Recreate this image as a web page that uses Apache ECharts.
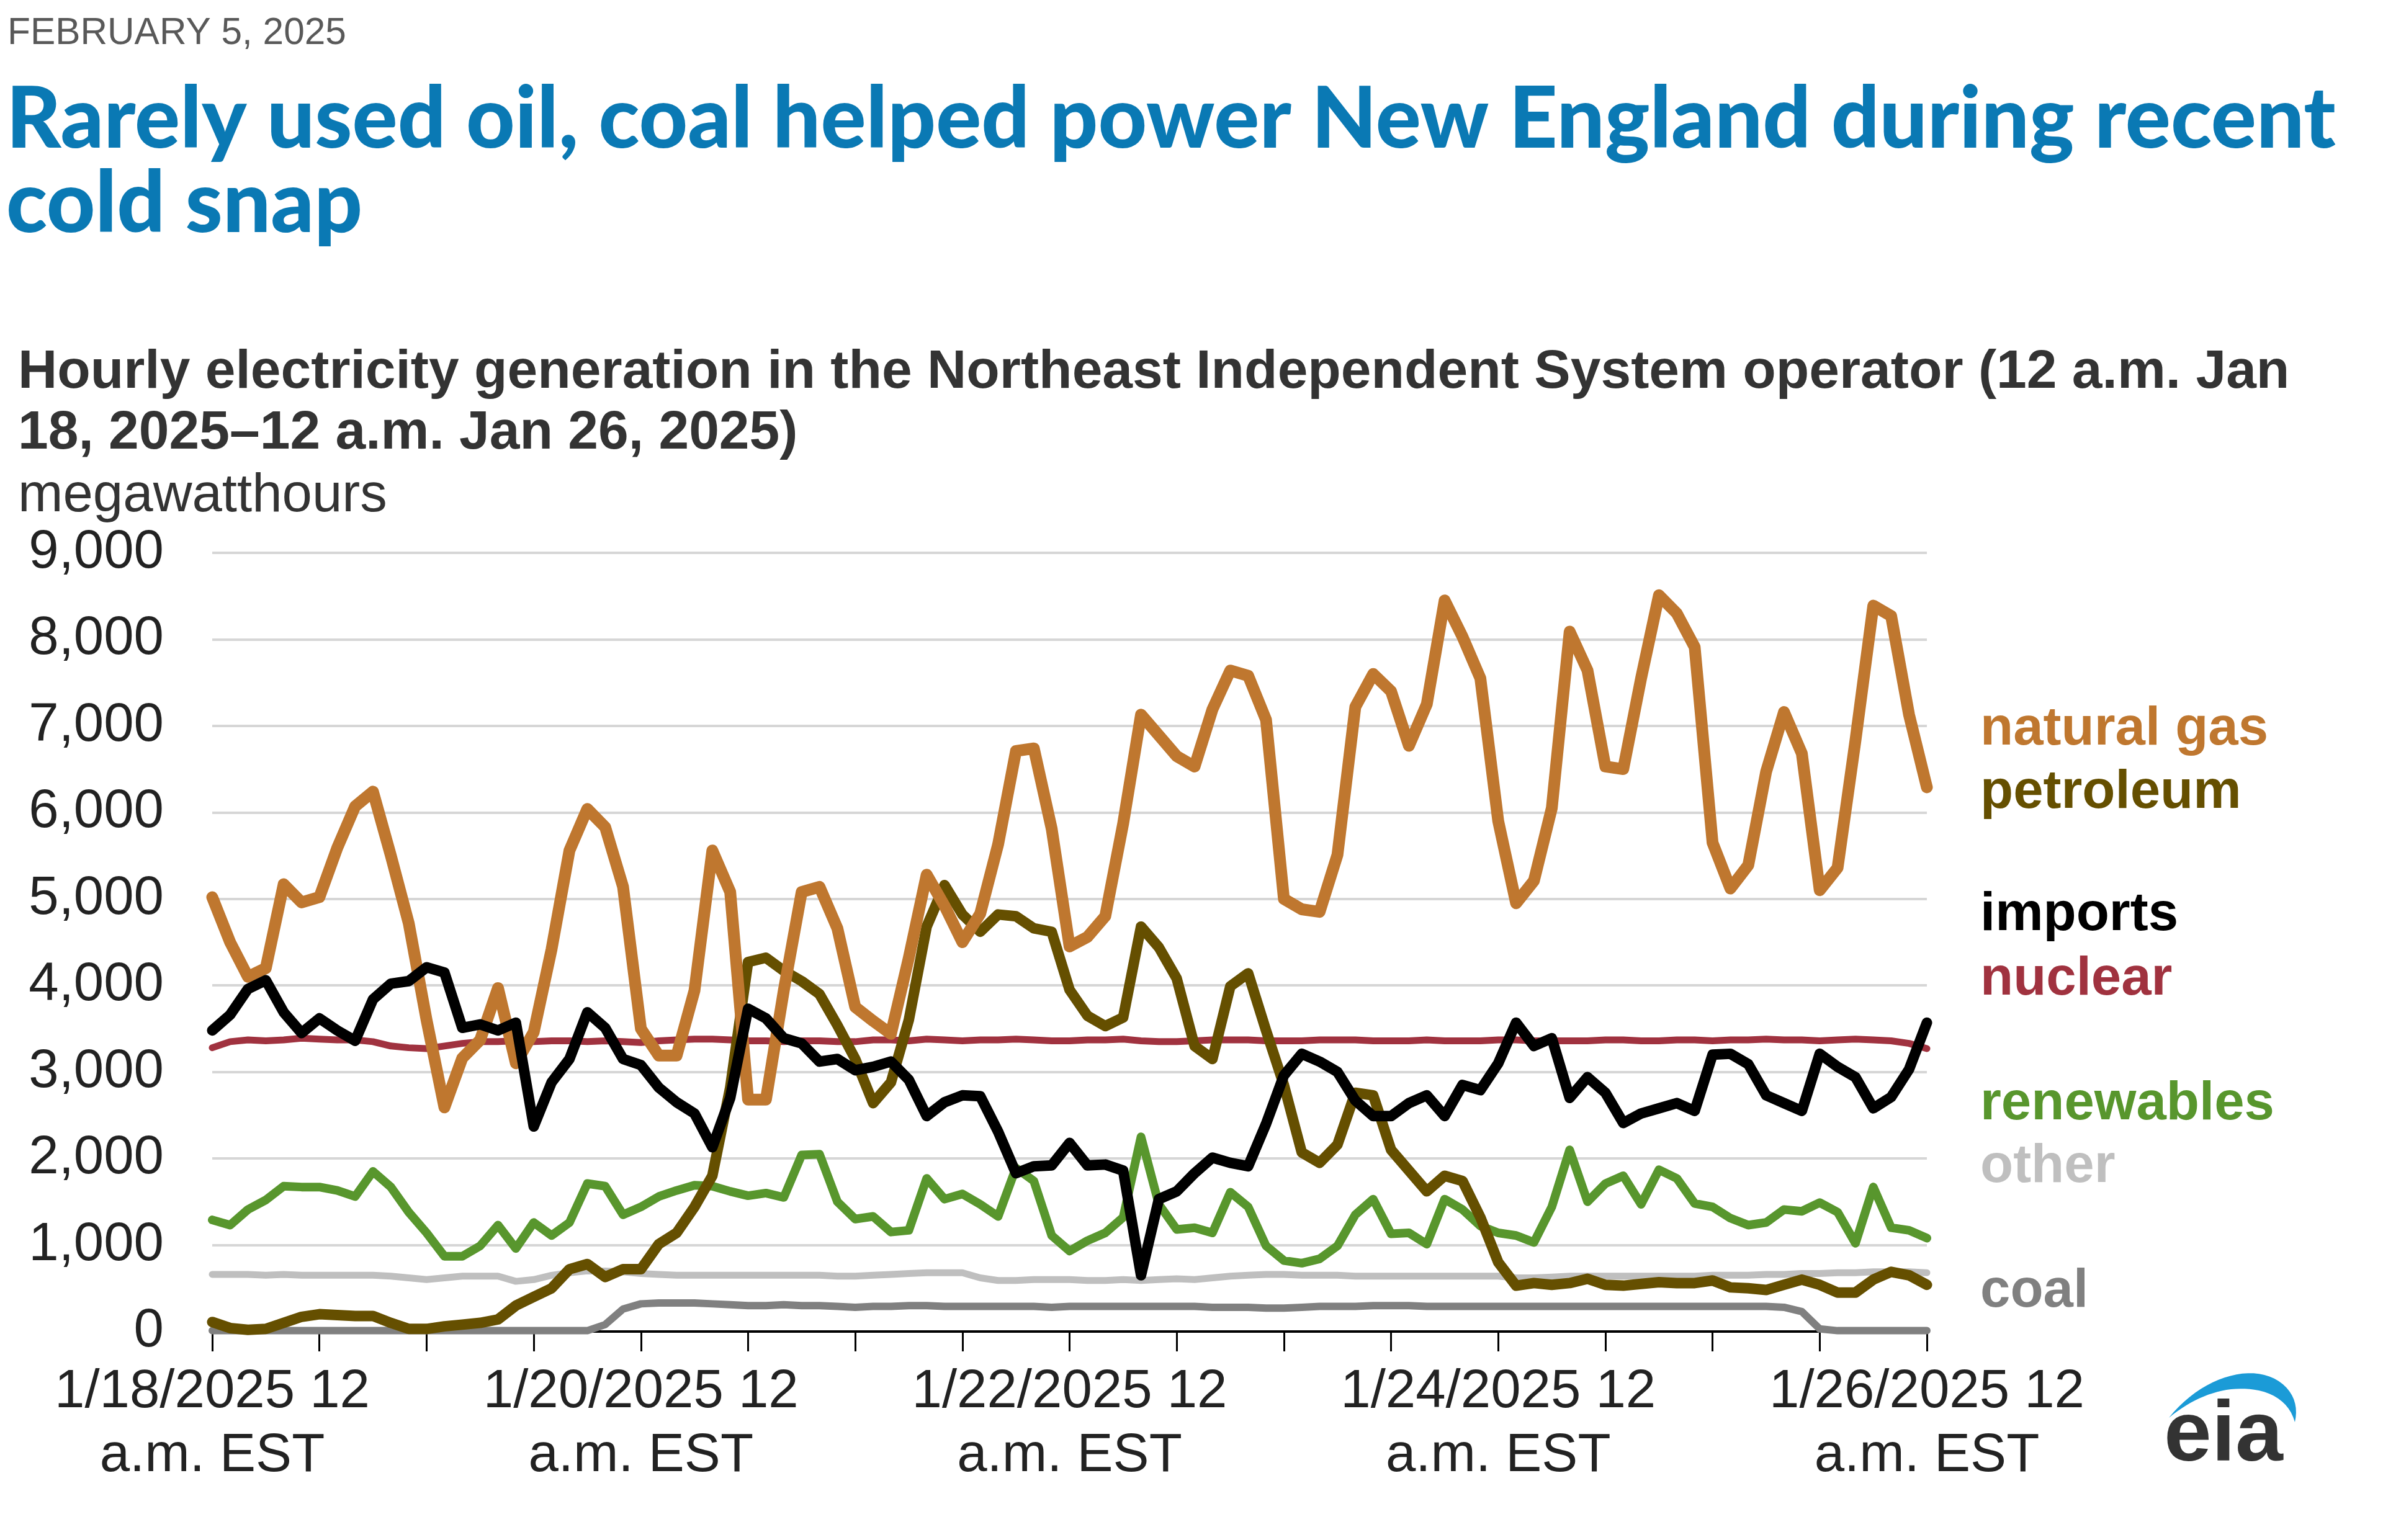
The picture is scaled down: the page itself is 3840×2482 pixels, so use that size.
<!DOCTYPE html>
<html><head><meta charset="utf-8">
<script src="https://cdn.jsdelivr.net/npm/echarts@6/dist/echarts.min.js"></script>
<style>html,body{margin:0;padding:0;background:#fff}#c{width:3840px;height:2482px}</style>
</head><body><div id="c"></div>
<script>
// hours since 12 a.m. Jan 18, 2025 (sampled every 2 hours)
const hours = [
  0,2,4,6,8,10,12,14,16,18,20,22,
  24,26,28,30,32,34,36,38,40,42,44,46,
  48,50,52,54,56,58,60,62,64,66,68,70,
  72,74,76,78,80,82,84,86,88,90,92,94,
  96,98,100,102,104,106,108,110,112,114,116,118,
  120,122,124,126,128,130,132,134,136,138,140,142,
  144,146,148,150,152,154,156,158,160,162,164,166,
  168,170,172,174,176,178,180,182,184,186,188,190,
  192];

const naturalGas = [
  5020,4500,4100,4200,5170,4960,5020,5590,6070,6240,5500,4720,
  3600,2590,3160,3370,3970,3100,3460,4420,5560,6040,5830,5140,
  3500,3190,3190,3940,5560,5080,2680,2680,3940,5080,5140,4660,
  3750,3590,3440,4320,5280,4920,4500,4830,5630,6710,6740,5810,
  4450,4560,4800,5870,7130,6890,6650,6530,7190,7640,7580,7070,
  5000,4880,4850,5510,7220,7600,7400,6770,7250,8450,8030,7550,
  5900,4950,5210,6050,8090,7640,6530,6500,7550,8510,8300,7910,
  5650,5120,5390,6470,7160,6680,5100,5360,6830,8390,8270,7130,
  6290];

const petroleum = [
  110,40,20,30,100,170,200,190,180,180,100,30,
  30,60,80,100,140,300,400,500,720,780,630,720,
  720,1010,1140,1440,1800,2820,4270,4320,4170,4050,3900,3540,
  3150,2640,2880,3600,4680,5160,4820,4620,4820,4800,4660,4620,
  3950,3650,3530,3630,4680,4440,4080,3300,3150,3990,4140,3480,
  2850,2070,1950,2160,2760,2730,2100,1860,1620,1800,1740,1320,
  800,530,560,540,560,610,540,530,550,570,560,560,
  590,510,500,480,540,600,540,450,450,600,690,650,
  540];

const imports = [
  3480,3660,3960,4060,3690,3450,3620,3480,3360,3840,4020,4050,
  4210,4150,3510,3550,3480,3570,2370,2880,3150,3690,3510,3150,
  3080,2820,2650,2520,2130,2700,3730,3620,3390,3330,3120,3150,
  3020,3060,3120,2910,2490,2650,2730,2720,2310,1830,1910,1920,
  2180,1920,1930,1860,650,1530,1620,1830,2010,1950,1910,2400,
  2960,3210,3120,3000,2670,2490,2490,2640,2730,2490,2850,2790,
  3100,3570,3300,3390,2700,2940,2760,2410,2520,2580,2640,2550,
  3200,3210,3090,2730,2640,2550,3210,3060,2940,2580,2710,3030,
  3570];

const nuclear = [
  3280,3350,3370,3360,3370,3390,3380,3370,3370,3350,3300,3280,
  3270,3300,3330,3350,3350,3360,3350,3360,3360,3350,3360,3350,
  3340,3360,3370,3380,3380,3370,3360,3360,3350,3360,3360,3350,
  3350,3370,3370,3360,3380,3370,3360,3370,3370,3380,3370,3360,
  3360,3370,3370,3380,3360,3350,3350,3360,3370,3370,3370,3360,
  3360,3360,3370,3370,3370,3360,3360,3360,3370,3360,3360,3360,
  3370,3370,3360,3360,3360,3360,3370,3370,3360,3360,3370,3370,
  3360,3370,3370,3380,3370,3370,3360,3370,3380,3370,3360,3330,
  3270];

const renewables = [
  1290,1230,1410,1520,1680,1670,1670,1630,1560,1850,1670,1380,
  1140,870,870,990,1230,960,1260,1110,1260,1710,1680,1350,
  1440,1560,1630,1690,1680,1620,1570,1600,1550,2040,2050,1500,
  1300,1330,1150,1170,1770,1530,1590,1470,1330,1890,1740,1110,
  930,1050,1140,1320,2250,1470,1180,1200,1140,1610,1440,990,
  820,790,840,990,1350,1530,1130,1140,1010,1530,1410,1220,
  1140,1110,1030,1440,2100,1500,1710,1800,1470,1870,1770,1480,
  1440,1310,1230,1260,1410,1390,1490,1380,1020,1670,1200,1170,
  1080];

const other = [
  660,660,660,650,660,650,650,650,650,650,640,620,
  600,620,640,640,640,580,600,650,680,700,700,690,
  670,660,650,650,650,650,650,650,650,650,650,640,
  640,650,660,670,680,680,680,620,590,590,600,600,
  600,590,590,600,590,600,610,600,620,640,650,660,
  660,650,650,650,640,640,640,640,640,640,640,640,
  640,620,620,630,640,640,640,640,640,640,640,640,
  650,650,650,660,660,670,670,680,680,690,690,690,
  680];

const coal = [
  10,10,10,10,10,10,10,10,10,10,10,10,
  10,10,10,10,10,10,10,10,10,10,80,260,
  320,330,330,330,320,310,300,300,310,300,300,290,
  280,290,290,300,300,290,290,290,290,290,290,280,
  290,290,290,290,290,290,290,290,280,280,280,270,
  270,280,290,290,290,300,300,300,290,290,290,290,
  290,290,290,290,290,290,290,290,290,290,290,290,
  290,290,290,290,280,230,30,10,10,10,10,10,
  10];

const xTickLabels = ['1/18/2025 12\na.m. EST','1/20/2025 12\na.m. EST','1/22/2025 12\na.m. EST','1/24/2025 12\na.m. EST','1/26/2025 12\na.m. EST'];

const seriesNames  = ['coal','other','renewables','nuclear','petroleum','natural gas','imports'];
const seriesData   = [coal, other, renewables, nuclear, petroleum, naturalGas, imports];
const seriesColors = ['#808080','#bfbfbf','#58962d','#a0323f','#654f00','#bf772f','#000000'];
const seriesWidths = [12, 11, 14, 11, 17, 19, 17];

function fitSize(text, weight, family, targetW) {
  const ctx = document.createElement('canvas').getContext('2d');
  ctx.font = weight + ' 100px ' + family;
  return 100 * targetW / ctx.measureText(text).width;
}

const AX = '"Liberation Sans", Arial, sans-serif';
const TF = 'Lato, "Noto Sans", sans-serif';
const titleSize = fitSize('Rarely used oil, coal helped power New England during recent', '900', TF, 3754);
const subSize = fitSize('Hourly electricity generation in the Northeast Independent System operator (12 a.m. Jan', 'bold', AX, 3661);
const dateSize = fitSize('FEBRUARY 5, 2025', 'normal', AX, 546);

function txt(text, x, y, size, weight, color, family) {
  return {type:'text', x:x, y:y, silent:true,
    style:{text:text, fill:color, fontSize:size, fontWeight:weight, fontFamily:family||AX,
      align:'left', verticalAlign:'middle', textAlign:'left', textVerticalAlign:'middle'}};
}

// logo swoosh outline built from two cubic curves
function cubic(p0, p1, p2, p3, n) {
  const pts = [];
  for (let i = 0; i <= n; i++) {
    const t = i / n, u = 1 - t;
    pts.push([u*u*u*p0[0] + 3*u*u*t*p1[0] + 3*u*t*t*p2[0] + t*t*t*p3[0],
              u*u*u*p0[1] + 3*u*u*t*p1[1] + 3*u*t*t*p2[1] + t*t*t*p3[1]]);
  }
  return pts;
}
const swoosh = []
  .concat(cubic([3495,2285],[3545,2222],[3625,2195],[3672,2226],20))
  .concat(cubic([3672,2226],[3696,2242],[3704,2266],[3698,2292],10))
  .concat(cubic([3698,2292],[3690,2264],[3670,2248],[3640,2241],10))
  .concat(cubic([3640,2241],[3590,2231],[3540,2248],[3495,2285],20));

const legendItems = [
  ['natural gas','#bf772f',1176],['petroleum','#654f00',1278],['imports','#000000',1475],
  ['nuclear','#a0323f',1579],['renewables','#58962d',1780],['other','#bfbfbf',1881],['coal','#808080',2082]
];

const graphic = [
  txt('FEBRUARY 5, 2025', 12, 54, dateSize, 'normal', '#595959'),
  txt('Rarely used oil, coal helped power New England during recent', 10, 194, titleSize, '900', '#0a79b4', TF),
  txt('cold snap', 10, 330, titleSize, '900', '#0a79b4', TF),
  txt('Hourly electricity generation in the Northeast Independent System operator (12 a.m. Jan', 29, 601, subSize, 'bold', '#333333'),
  txt('18, 2025\u201312 a.m. Jan 26, 2025)', 29, 699, subSize, 'bold', '#333333'),
  txt('megawatthours', 29, 800, 87, 'normal', '#333333'),
  txt('eia', 3487, 2316, 138, 'bold', '#333333'),
  {type:'polygon', silent:true, shape:{points:swoosh}, style:{fill:'#1b9bd7'}}
];
legendItems.forEach(l => graphic.push(txt(l[0], 3191, l[2], 87, 'bold', l[1])));

const series = seriesNames.map((n, i) => ({
  name:n, type:'line', data: hours.map((h, k) => [h, seriesData[i][k]]),
  showSymbol:false, symbol:'none', silent:true, z: 2 + i,
  lineStyle:{color:seriesColors[i], width:seriesWidths[i], join:'round', cap:'round'},
  itemStyle:{color:seriesColors[i]}
}));

const chart = echarts.init(document.getElementById('c'), null, {renderer:'canvas', width:3840, height:2482});
chart.setOption({
  animation:false,
  backgroundColor:'#ffffff',
  grid:{left:342, right:735, top:891, bottom:336, containLabel:false},
  xAxis:{type:'value', min:0, max:192, interval:12,
    axisLine:{show:true, lineStyle:{color:'#000', width:4}},
    axisTick:{show:true, length:32, lineStyle:{color:'#000', width:3}},
    splitLine:{show:false},
    axisLabel:{show:true, showMinLabel:true, showMaxLabel:true, margin:47, fontSize:87, lineHeight:103,
      color:'#222', fontFamily:AX, align:'center',
      formatter: v => (v % 48 === 0 ? xTickLabels[v / 48] : '')}
  },
  yAxis:{type:'value', min:0, max:9000, interval:1000,
    axisLine:{show:false}, axisTick:{show:false},
    splitLine:{show:true, lineStyle:{color:'#d6d6d6', width:4}},
    axisLabel:{margin:78, fontSize:87, color:'#222', fontFamily:AX,
      formatter: v => v.toLocaleString('en-US')}
  },
  graphic: graphic,
  series: series
});
</script></body></html>
